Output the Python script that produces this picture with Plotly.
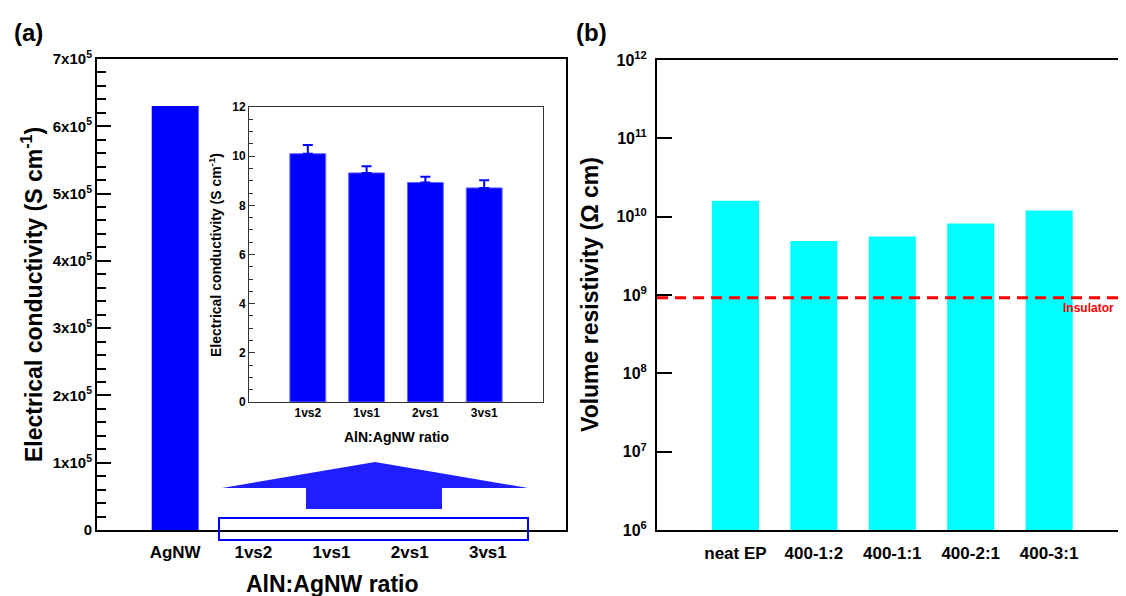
import numpy as np
import plotly.graph_objects as go

# ---------------- data ----------------
main_categories = ["AgNW", "1vs2", "1vs1", "2vs1", "3vs1"]
main_bar_category = ["AgNW"]
main_bar_value = [6.3e5]
main_yticks = [0, 1e5, 2e5, 3e5, 4e5, 5e5, 6e5, 7e5]
main_yticktext = ["0"] + [f"{i}x10<sup>5</sup>" for i in range(1, 8)]

inset_categories = ["1vs2", "1vs1", "2vs1", "3vs1"]
inset_values = [10.1, 9.32, 8.93, 8.71]
inset_errors = [0.35, 0.27, 0.23, 0.31]

right_categories = ["neat EP", "400-1:2", "400-1:1", "400-2:1", "400-3:1"]
right_values = [1.6e10, 4.9e9, 5.6e9, 8.2e9, 1.2e10]
right_yticks = [1e6, 1e7, 1e8, 1e9, 1e10, 1e11, 1e12]
right_yticktext = [f"10<sup>{e}</sup>" for e in range(6, 13)]
insulator_level = 9.25e8

# ---------------- layout helpers ----------------
# page body has an 8 px margin, so the figure is drawn 8 px right/down
OFF = 8
W, H = 1126 - OFF, 596 - OFF
FONT = "Liberation Sans, Arial, sans-serif"


def xp(px):
    return (px - OFF) / W


def yp(py):
    return 1 - (py - OFF) / H


fig = go.Figure()

main_x = [main_categories.index(c) for c in main_bar_category]
fig.add_trace(go.Bar(x=main_x, y=main_bar_value, width=0.6,
                     marker=dict(color="#0000FF", line=dict(width=0)),
                     xaxis="x", yaxis="y", showlegend=False))

inset_x = list(range(len(inset_categories)))
fig.add_trace(go.Bar(x=inset_x, y=inset_values, width=0.61,
                     marker=dict(color="#0000FF", line=dict(color="#6666FF", width=1)),
                     error_y=dict(type="data", symmetric=False, array=inset_errors,
                                  arrayminus=[0] * len(inset_errors),
                                  color="#0000FF", thickness=2, width=5),
                     xaxis="x2", yaxis="y2", showlegend=False))

right_x = list(range(len(right_categories)))
fig.add_trace(go.Bar(x=right_x, y=right_values, width=0.6,
                     marker=dict(color="#00FFFF", line=dict(width=0)),
                     xaxis="x3", yaxis="y3", showlegend=False))

fig.add_trace(go.Scatter(x=[-1, len(right_categories)], y=[insulator_level] * 2,
                         mode="lines", line=dict(color="#FF0000", width=3, dash="11px,7px"),
                         xaxis="x3", yaxis="y3", showlegend=False, hoverinfo="skip"))

tickfont_main = dict(family=FONT, size=15, color="black", weight="bold")

fig.update_layout(
    width=W, height=H,
    margin=dict(l=0, r=0, t=0, b=0, autoexpand=False),
    paper_bgcolor="white", plot_bgcolor="white",
    font=dict(family=FONT, color="black"),
    bargap=0.4,
    xaxis=dict(domain=[xp(97), xp(566)], range=[-1, 5], anchor="y", automargin=False,
               tickmode="array", tickvals=list(range(len(main_categories))),
               ticktext=main_categories, ticks="", showgrid=False, zeroline=False,
               showline=True, linecolor="black", linewidth=2, mirror=True,
               ticklabelstandoff=6,
               tickfont=dict(family=FONT, size=17, color="black", weight="bold")),
    yaxis=dict(domain=[yp(530), yp(59)], range=[0, 7e5], anchor="x", automargin=False,
               tickmode="array", tickvals=main_yticks, ticktext=main_yticktext,
               ticks="inside", ticklen=14, tickwidth=2, tickcolor="black",
               minor=dict(tickmode="linear", tick0=0, dtick=2e4, ticks="inside",
                          ticklen=9, tickwidth=2, tickcolor="black"),
               showgrid=False, zeroline=False, showline=True, linecolor="black",
               linewidth=2, mirror=True, tickfont=tickfont_main),
    xaxis2=dict(domain=[xp(249), xp(543)], range=[-1, 4], anchor="y2", automargin=False,
                tickmode="array", tickvals=inset_x, ticktext=inset_categories,
                ticks="", showgrid=False, zeroline=False, showline=True,
                linecolor="#333333", linewidth=1, mirror=True,
                tickfont=dict(family=FONT, size=12, color="black", weight="bold")),
    yaxis2=dict(domain=[yp(402), yp(107)], range=[0, 12], anchor="x2", automargin=False,
                tickmode="linear", tick0=0, dtick=2,
                ticks="inside", ticklen=6, tickwidth=1, tickcolor="#333333",
                minor=dict(tickmode="linear", tick0=0, dtick=0.5, ticks="inside",
                           ticklen=4, tickwidth=1, tickcolor="#333333"),
                showgrid=False, zeroline=False, showline=True, linecolor="#333333",
                linewidth=1, mirror=True,
                tickfont=dict(family=FONT, size=12, color="black", weight="bold")),
    xaxis3=dict(domain=[xp(657), 1.0], range=[-1, 4.98], anchor="y3", automargin=False,
                tickmode="array", tickvals=right_x, ticktext=right_categories,
                ticks="", showgrid=False, zeroline=False, showline=True,
                linecolor="black", linewidth=2, mirror=True,
                ticklabelstandoff=7,
                tickfont=dict(family=FONT, size=17, color="black", weight="bold")),
    yaxis3=dict(domain=[yp(530), yp(60)], type="log", range=[6, 12], anchor="x3",
                automargin=False,
                tickmode="array", tickvals=right_yticks, ticktext=right_yticktext,
                ticks="inside", ticklen=15, tickwidth=2, tickcolor="black",
                ticklabelstandoff=5,
                showgrid=False, zeroline=False, showline=True, linecolor="black",
                linewidth=2, mirror=True,
                tickfont=dict(family=FONT, size=16, color="black", weight="bold")),
)

# ---------------- decorations ----------------
blue = "#1E1EFF"
arrow_pts = [(222, 488), (375, 462), (528, 488), (442, 488), (442, 509), (306, 509), (306, 488)]
path = "M " + " L ".join(f"{xp(a):.5f},{yp(b):.5f}" for a, b in arrow_pts) + " Z"
fig.add_shape(type="path", path=path, xref="paper", yref="paper",
              fillcolor=blue, line=dict(width=0), layer="above")
fig.add_shape(type="rect", xref="paper", yref="paper",
              x0=xp(219), x1=xp(528), y0=yp(540), y1=yp(518),
              line=dict(color="#0000FF", width=2), fillcolor="rgba(0,0,0,0)", layer="above")

ann = []
bold = lambda s, c="black": dict(family=FONT, size=s, color=c, weight="bold")
ann.append(dict(text="(a)", x=xp(12), y=yp(33), xref="paper", yref="paper",
                xanchor="left", yanchor="middle", showarrow=False, font=bold(24)))
ann.append(dict(text="(b)", x=xp(574), y=yp(33), xref="paper", yref="paper",
                xanchor="left", yanchor="middle", showarrow=False, font=bold(24)))
ann.append(dict(text="Electrical conductivity (S cm<sup>-1</sup>)", x=xp(32), y=yp(295),
                xref="paper", yref="paper", textangle=-90, showarrow=False,
                xanchor="center", yanchor="middle", font=bold(23)))
ann.append(dict(text="AlN:AgNW ratio", x=xp(332), y=yp(584), xref="paper", yref="paper",
                showarrow=False, xanchor="center", yanchor="middle", font=bold(23)))
ann.append(dict(text="Electrical conductivity (S cm<sup>-1</sup>)", x=xp(215), y=yp(255),
                xref="paper", yref="paper", textangle=-90, showarrow=False,
                xanchor="center", yanchor="middle", font=bold(14)))
ann.append(dict(text="AlN:AgNW ratio", x=xp(396), y=yp(437), xref="paper", yref="paper",
                showarrow=False, xanchor="center", yanchor="middle", font=bold(14)))
ann.append(dict(text="Volume resistivity (Ω cm)", x=xp(590), y=yp(295), xref="paper",
                yref="paper", textangle=-90, showarrow=False, xanchor="center",
                yanchor="middle", font=bold(23)))
ann.append(dict(text="Insulator", x=xp(1116), xref="paper", y=yp(308),
                yref="paper", xanchor="right", yanchor="middle",
                showarrow=False, font=bold(12, "#FF0000")))
fig.update_layout(annotations=ann)

fig.write_html("out.html")
